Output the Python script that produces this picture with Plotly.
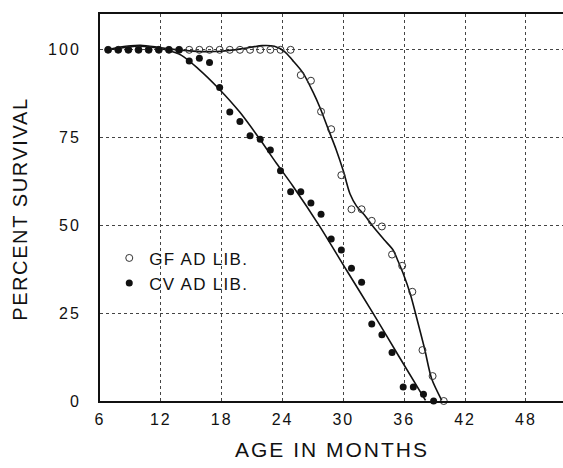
import plotly.graph_objects as go

# ---- data ----
gf_months = [6.8, 7.8, 8.8, 9.8, 10.8, 11.8, 12.8, 13.8, 14.8, 15.8, 16.8, 17.8, 18.8, 19.8,
             20.8, 21.8, 22.8, 23.8, 24.8, 25.8, 26.8, 27.8, 28.8, 29.8, 30.8, 31.8, 32.8,
             33.8, 34.8, 35.8, 36.8, 37.8, 38.8, 39.9]
gf_survival = [100, 100, 100, 100, 100, 100, 100, 100, 100, 100, 100, 100, 100, 100,
               100, 100, 100, 100, 100, 92.8, 91.2, 82.4, 77.4, 64.3, 54.6, 54.6, 51.3,
               49.7, 41.7, 38.5, 31.1, 14.5, 7.1, 0]

cv_months = [6.8, 7.8, 8.8, 9.8, 10.8, 11.8, 12.8, 13.8, 14.8, 15.8, 16.8, 17.8, 18.8, 19.8,
             20.8, 21.8, 22.8, 23.8, 24.8, 25.8, 26.8, 27.8, 28.8, 29.8, 30.8, 31.8, 32.8,
             33.8, 34.8, 35.9, 36.9, 37.9, 38.9]
cv_survival = [100, 100, 100, 100, 100, 100, 100, 100, 96.8, 97.6, 96.4, 89.3, 82.3, 79.6,
               75.5, 74.5, 71.5, 65.6, 59.6, 59.6, 56.4, 53.2, 46.1, 43.0, 37.8, 33.8, 21.9,
               18.9, 13.8, 4.0, 4.0, 1.9, 0]

# fitted curves
gf_fit_x = [6.8, 8, 10, 12, 14, 16, 18, 20, 22, 23.2, 24.2, 25, 26, 27, 27.7, 28.5, 29.3,
            30.0, 30.65, 31.3, 32.1, 32.95, 34.0, 34.9, 35.4, 35.9, 36.6, 37.2, 38.0, 38.7, 39.7]
gf_fit_y = [100, 100.8, 101.3, 100.6, 99.9, 99.5, 99.6, 100.3, 101.2, 101.0, 99.5, 97.0,
            93.5, 88.0, 83.5, 77.5, 71.5, 65.5, 59.0, 55.5, 52.9, 49.6, 46.0, 43.0, 39.8,
            36.3, 30.5, 24.0, 15.0, 6.4, 0.2]

cv_fit_x = [6.8, 8, 9.5, 11, 12.5, 14, 15.7, 17.7, 19.8, 21.7, 23.4, 25.0, 27.7, 30.3,
            32.95, 35.5, 38.1]
cv_fit_y = [100, 100.5, 101.0, 100.8, 100, 98.5, 94.6, 89.0, 82.2, 74.8, 67.7, 61.3,
            49.6, 37.3, 24.9, 12.6, 0.2]

x_ticks = [6, 12, 18, 24, 30, 36, 42, 48]
y_ticks = [0, 25, 50, 75, 100]
legend_labels = ["GF AD LIB.", "CV AD LIB."]
x_title = "AGE IN MONTHS"
y_title = "PERCENT SURVIVAL"

INK = "#111111"
FONT = "Liberation Sans, Arial, sans-serif"


def spaced(t, px):
    return f'<span style="letter-spacing:{px}px">{t}</span>'


fig = go.Figure()

fig.add_trace(go.Scatter(x=gf_fit_x, y=gf_fit_y, mode="lines", line=dict(color=INK, width=1.6,
                         shape="spline", smoothing=0.8), showlegend=False, hoverinfo="skip",
                         cliponaxis=False))
fig.add_trace(go.Scatter(x=cv_fit_x, y=cv_fit_y, mode="lines", line=dict(color=INK, width=1.6,
                         shape="spline", smoothing=0.8), showlegend=False, hoverinfo="skip",
                         cliponaxis=False))

fig.add_trace(go.Scatter(x=gf_months, y=gf_survival, mode="markers",
                         name=spaced(legend_labels[0], 1.3),
                         marker=dict(symbol="circle-open", size=7, color="#333333",
                                     line=dict(width=1, color="#333333")),
                         cliponaxis=False))
fig.add_trace(go.Scatter(x=cv_months, y=cv_survival, mode="markers",
                         name=spaced(legend_labels[1], 1.3),
                         marker=dict(symbol="circle", size=7, color=INK),
                         cliponaxis=False))

fig.update_layout(
    width=563, height=468,
    margin=dict(l=100, r=0, t=14, b=67, autoexpand=False),
    paper_bgcolor="white", plot_bgcolor="white",
    font=dict(family=FONT, color=INK, size=16),
    legend=dict(x=0.02, y=0.415, xanchor="left", yanchor="top", bgcolor="rgba(0,0,0,0)",
                font=dict(size=17, family=FONT), itemwidth=30, tracegroupgap=0),
    showlegend=True,
    xaxis=dict(range=[6, 51.66], tickvals=x_ticks,
               ticktext=[spaced(str(v), 2) for v in x_ticks],
               showgrid=True, gridcolor="#444444", griddash="dot", gridwidth=1,
               showline=True, linecolor=INK, linewidth=2, mirror=True,
               ticks="", ticklabelstandoff=3, zeroline=False, automargin=False,
               tickfont=dict(size=16, family=FONT)),
    yaxis=dict(range=[0, 110.2], tickvals=y_ticks,
               ticktext=[spaced(str(v), 2) for v in y_ticks],
               showgrid=True, gridcolor="#444444", griddash="dot", gridwidth=1,
               showline=True, linecolor=INK, linewidth=2, mirror=False,
               ticks="", ticklabelstandoff=14, zeroline=False, automargin=False,
               tickfont=dict(size=16, family=FONT)),
    annotations=[
        dict(text=spaced(x_title, 2), xref="paper", yref="paper", x=0.5, y=-0.09,
             xanchor="center", yanchor="top", showarrow=False,
             font=dict(size=21, family=FONT, color=INK)),
        dict(text=spaced(y_title, 1.6), xref="paper", yref="paper", x=-0.172, y=0.495,
             xanchor="center", yanchor="middle", showarrow=False, textangle=-90,
             font=dict(size=20, family=FONT, color=INK)),
    ],
)

fig.write_html("out.html", config={"displayModeBar": False},
               post_script="document.body.style.margin='0';")
